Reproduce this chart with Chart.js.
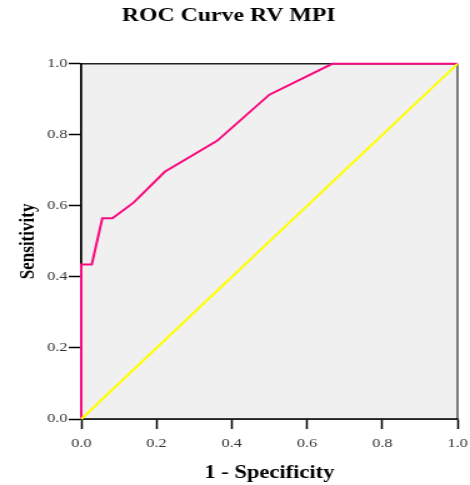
<!DOCTYPE html>
<html>
<head>
<meta charset="utf-8">
<script src="https://cdn.jsdelivr.net/npm/chart.js@4"></script>
<style>
  body { margin: 0; background: #fff; }
  #wrap { width: 470px; height: 485px; overflow: hidden; }
  /* the reference is stretched sideways, so draw narrow and widen */
  #graph { transform: scaleX(1.25); transform-origin: 0 0; }
</style>
</head>
<body>
<div id="wrap"><canvas id="graph" width="376" height="485"></canvas></div>
<script>
const chartTitle = 'ROC Curve RV MPI';
const xTitle = '1 - Specificity';
const yTitle = 'Sensitivity';

// ROC points
const falsePos = [0, 0, 0.028, 0.056, 0.083, 0.139, 0.222, 0.361, 0.5, 0.667, 1];
const truePos  = [0, 0.435, 0.435, 0.565, 0.565, 0.609, 0.696, 0.783, 0.913, 1, 1];
// reference diagonal
const diagX = [0, 1];
const diagY = [0, 1];

const serif = "'Liberation Serif', 'Times New Roman', serif";

const plotBox = {
    id: 'plotBox',
    beforeDatasetsDraw(chart) {
        const { ctx, chartArea: a } = chart;
        ctx.save();
        ctx.fillStyle = '#f0f0f0';
        ctx.fillRect(a.left, a.top, a.right - a.left, a.bottom - a.top);
        ctx.lineWidth = 1.5;
        ctx.strokeStyle = '#222';
        ctx.beginPath();
        ctx.moveTo(a.left, a.top);
        ctx.lineTo(a.right, a.top);
        ctx.stroke();
        ctx.strokeStyle = '#555';
        ctx.beginPath();
        ctx.moveTo(a.right, a.top);
        ctx.lineTo(a.right, a.bottom);
        ctx.stroke();
        // redraw axis lines on top of the fill
        ctx.strokeStyle = '#000';
        ctx.beginPath();
        ctx.moveTo(a.left, a.top);
        ctx.lineTo(a.left, a.bottom);
        ctx.lineTo(a.right, a.bottom);
        ctx.stroke();
        ctx.restore();
    }
};

const axisTicks = {
    color: '#333',
    font: { family: serif, size: 13 },
    stepSize: 0.2,
    callback: v => v.toFixed(1)
};

new Chart(document.getElementById('graph'), {
    type: 'scatter',
    data: {
        datasets: [{
            data: diagX.map((x, i) => ({ x: x, y: diagY[i] })),
            showLine: true,
            borderColor: '#ffff00',
            borderWidth: 2,
            pointRadius: 0,
            clip: 2
        }, {
            data: falsePos.map((x, i) => ({ x: x, y: truePos[i] })),
            showLine: true,
            borderColor: '#fa0a80',
            borderWidth: 2,
            pointRadius: 0,
            clip: 2
        }]
    },
    options: {
        responsive: false,
        animation: false,
        layout: { padding: { right: 10 } },
        plugins: {
            legend: { display: false },
            tooltip: { enabled: false },
            title: {
                display: true,
                text: chartTitle,
                color: '#000',
                font: { family: serif, size: 19, weight: 'bold' },
                padding: { top: 5, bottom: 36 }
            }
        },
        scales: {
            x: {
                type: 'linear',
                min: 0,
                max: 1,
                ticks: Object.assign({ padding: 7 }, axisTicks),
                grid: { drawOnChartArea: false, tickLength: 10, tickColor: '#000', tickWidth: 1.5 },
                border: { color: '#000', width: 1.5 },
                title: {
                    display: true,
                    text: xTitle,
                    color: '#000',
                    font: { family: serif, size: 18, weight: 'bold' },
                    padding: { top: 0, bottom: 1 }
                },
                afterFit: s => { s.height = 66; s.paddingLeft = 0; s.paddingRight = 0; }
            },
            y: {
                type: 'linear',
                min: 0,
                max: 1,
                ticks: Object.assign({ padding: 1 }, axisTicks),
                grid: { drawOnChartArea: false, tickLength: 10, tickColor: '#000', tickWidth: 1.5 },
                border: { color: '#000', width: 1.5 },
                title: {
                    display: true,
                    text: yTitle,
                    color: '#000',
                    font: { family: serif, size: 17, weight: 'bold' },
                    padding: { top: 12, bottom: 0 }
                },
                afterFit: s => { s.width = 65; }
            }
        }
    },
    plugins: [plotBox]
});
</script>
</body>
</html>
